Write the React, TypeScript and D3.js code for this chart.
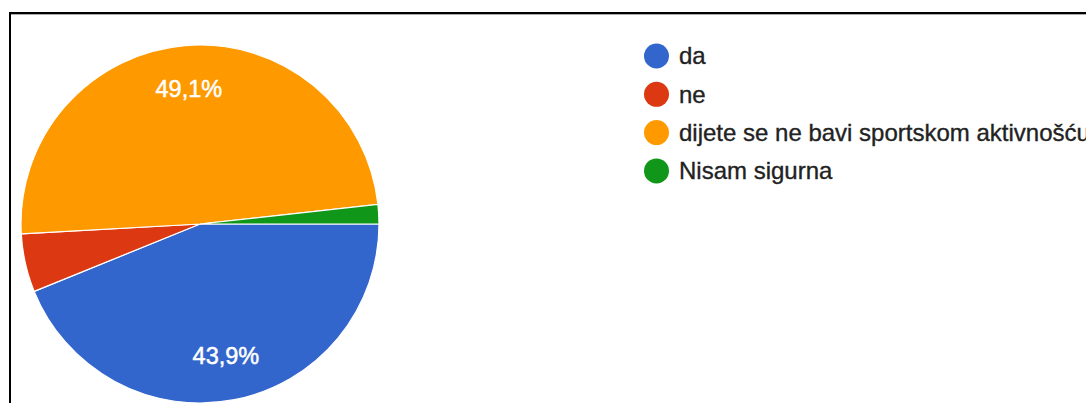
import React from "react";
import * as d3 from "d3";

const categories = ["da", "ne", "dijete se ne bavi sportskom aktivnošću", "Nisam sigurna"];
const counts = [25, 3, 28, 1];
const colors = ["#3366cc", "#dc3912", "#ff9900", "#109618"];

const W = 1086;
const H = 403;
const cx = 200;
const cy = 224;
const R = 179;
const labelR = 135;
const FONT = "Arial, 'Liberation Sans', sans-serif";

export default function App() {
  const total = d3.sum(counts);
  const pie = d3
    .pie<number>()
    .sort(null)
    .startAngle(Math.PI / 2)
    .endAngle(Math.PI / 2 + 2 * Math.PI)(counts);
  const arc = d3.arc<d3.PieArcDatum<number>>().innerRadius(0).outerRadius(R);
  const labelArc = d3.arc<d3.PieArcDatum<number>>().innerRadius(labelR).outerRadius(labelR);
  const fmt = (v: number) => (Math.round((v / total) * 1000) / 10).toFixed(1).replace(".", ",") + "%";
  const legendY = d3.scaleLinear().domain([0, 1]).range([56, 94.3]);

  return (
    <div style={{ position: "absolute", left: 0, top: 0, width: W, height: H, background: "#fff" }}>
      <svg width={W} height={H} style={{ display: "block" }}>
        <rect x={0} y={0} width={W} height={H} fill="#fff" />
        <rect x={10} y={13} width={1300} height={600} fill="none" stroke="#000" strokeWidth={2} />
        <line x1={11} x2={W} y1={14.5} y2={14.5} stroke="#aaa" strokeWidth={1} />
        <g transform={`translate(${cx},${cy})`}>
          {pie.map((d, i) => (
            <path key={i} d={arc(d) || ""} fill={colors[i]} stroke="#fff" strokeWidth={1.2} />
          ))}
          {pie.map((d, i) => {
            if (d.value / total < 0.1) return null;
            const [x, y] = labelArc.centroid(d);
            return (
              <text
                key={"l" + i}
                x={x}
                y={y}
                dy="0.33em"
                textAnchor="middle"
                fill="#fff"
                stroke="#fff"
                strokeWidth={0.5}
                fontFamily={FONT}
                fontSize={23.5}
              >
                {fmt(d.value)}
              </text>
            );
          })}
        </g>
        <g>
          {categories.map((c, i) => (
            <g key={c} transform={`translate(656.5,${legendY(i)})`}>
              <circle r={12.5} fill={colors[i]} />
              <text
                x={22.5}
                dy="0.35em"
                fill="#222"
                stroke="#222"
                strokeWidth={0.35}
                fontFamily={FONT}
                fontSize={24}
              >
                {c}
              </text>
            </g>
          ))}
        </g>
      </svg>
    </div>
  );
}
